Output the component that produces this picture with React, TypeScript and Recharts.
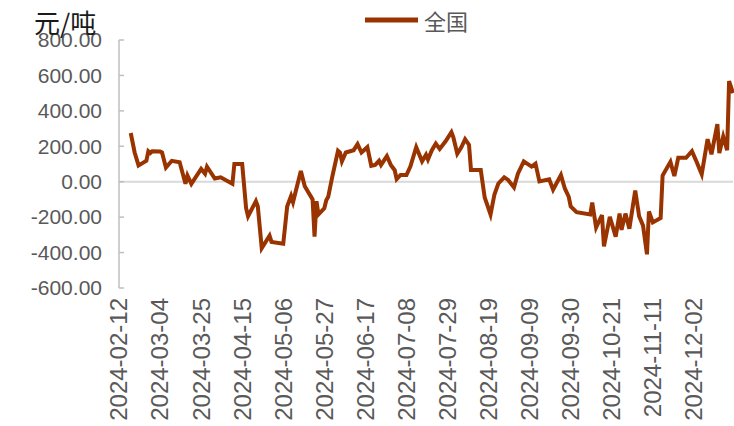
import React from "react";
import { LineChart, Line, XAxis, YAxis, ReferenceLine } from "recharts";

const dates = [
  "2024-02-18", "2024-02-20", "2024-02-22", "2024-02-24", "2024-02-26", "2024-02-27", "2024-02-28", "2024-02-29",
  "2024-03-04", "2024-03-05", "2024-03-07", "2024-03-10", "2024-03-14", "2024-03-17", "2024-03-18", "2024-03-20",
  "2024-03-25", "2024-03-27", "2024-03-28",
  "2024-04-01", "2024-04-04", "2024-04-10", "2024-04-11", "2024-04-15", "2024-04-17", "2024-04-18", "2024-04-22",
  "2024-04-23", "2024-04-25", "2024-04-29", "2024-04-30",
  "2024-05-06", "2024-05-08", "2024-05-10", "2024-05-11", "2024-05-15", "2024-05-17", "2024-05-21", "2024-05-22",
  "2024-05-23", "2024-05-24", "2024-05-27", "2024-05-28", "2024-05-29", "2024-05-31",
  "2024-06-03", "2024-06-04", "2024-06-05", "2024-06-07", "2024-06-11", "2024-06-13", "2024-06-15", "2024-06-18",
  "2024-06-20", "2024-06-22", "2024-06-24", "2024-06-25", "2024-06-28", "2024-06-30",
  "2024-07-02", "2024-07-03", "2024-07-05", "2024-07-08", "2024-07-10", "2024-07-13", "2024-07-16", "2024-07-18",
  "2024-07-19", "2024-07-21", "2024-07-23", "2024-07-25", "2024-07-28", "2024-07-31",
  "2024-08-01", "2024-08-03", "2024-08-05", "2024-08-07", "2024-08-09", "2024-08-10", "2024-08-15", "2024-08-17",
  "2024-08-20", "2024-08-22", "2024-08-24", "2024-08-27", "2024-08-29",
  "2024-09-01", "2024-09-03", "2024-09-06", "2024-09-10", "2024-09-12", "2024-09-14", "2024-09-19", "2024-09-21",
  "2024-09-25", "2024-09-27", "2024-09-29", "2024-09-30",
  "2024-10-03", "2024-10-10", "2024-10-11", "2024-10-13", "2024-10-16", "2024-10-17", "2024-10-20", "2024-10-23",
  "2024-10-25", "2024-10-26", "2024-10-28", "2024-10-30",
  "2024-11-02", "2024-11-04", "2024-11-06", "2024-11-08", "2024-11-09", "2024-11-11", "2024-11-15", "2024-11-16",
  "2024-11-20", "2024-11-22", "2024-11-24", "2024-11-28",
  "2024-12-01", "2024-12-03", "2024-12-06", "2024-12-09", "2024-12-11", "2024-12-14", "2024-12-15", "2024-12-17",
  "2024-12-19", "2024-12-20", "2024-12-22",
];

// 全国 (元/吨)
const nationalValues = [
  275, 165, 92, 105, 118, 172, 162, 172,
  170, 165, 80, 118, 110, -12, 35, -12,
  72, 45, 85,
  18, 25, -12, 100, 100, -150, -195, -110,
  -140, -375, -305, -340,
  -350, -140, -80, -115, 60, -25, -100, -310,
  -110, -185, -150, -105, -85, 25,
  175, 165, 115, 165, 178, 212, 165, 195,
  90, 95, 118, 95, 145, 95,
  65, 15, 38, 38, 85, 195, 115, 152,
  125, 178, 215, 185, 228, 280,
  250, 158, 193, 240, 208, 66, 66, -88,
  -185, -72, -10, 25, 10,
  -32, 45, 115, 85, 102, 2, 14, -45,
  38, -38, -85, -140,
  -172, -185, -118, -258, -188, -365, -198, -310,
  -180, -272, -180, -265,
  -50, -195, -248, -410, -168, -230, -205, 35,
  112, 32, 135, 135,
  172, 122, 42, 240, 155, 325, 162, 255,
  178, 568, 500,
];

const xTickLabels = [
  "2024-02-12", "2024-03-04", "2024-03-25", "2024-04-15", "2024-05-06", "2024-05-27", "2024-06-17", "2024-07-08",
  "2024-07-29", "2024-08-19", "2024-09-09", "2024-09-30", "2024-10-21", "2024-11-11", "2024-12-02",
];
const xDomainLabels = ["2024-02-12", "2024-12-22"];
const yTicks = [-600, -400, -200, 0, 200, 400, 600, 800];

const seriesName = "全国";
const unitLabel = "元/吨";

const data = dates.map((d, i) => ({ t: Date.parse(d), v: nationalValues[i] }));
const xTicks = xTickLabels.map((d) => Date.parse(d));
const xDomain = xDomainLabels.map((d) => Date.parse(d));

const LINE_COLOR = "#993300";
const AXIS_COLOR = "#bfbfbf";
const TEXT_COLOR = "#595959";
const FONT = "'Liberation Sans', Arial, sans-serif";
const CJK = "'Noto Sans CJK SC', sans-serif";

const fmtDate = (t: number) => new Date(t).toISOString().slice(0, 10);

function XTick(props: any) {
  const { x, y, payload } = props;
  return (
    <g transform={`translate(${x},${y})`}>
      <text
        transform="rotate(-90)"
        textAnchor="end"
        dy="0.35em"
        fill={TEXT_COLOR}
        fontSize={24}
        fontFamily={FONT}
      >
        {fmtDate(payload.value)}
      </text>
    </g>
  );
}

function YTick(props: any) {
  const { x, y, payload } = props;
  return (
    <g>
      <line x1={x} y1={y} x2={x + 5} y2={y} stroke={AXIS_COLOR} strokeWidth={1.5} />
      <text
        x={x - 17}
        y={y}
        dy="0.35em"
        textAnchor="end"
        fill={TEXT_COLOR}
        fontSize={21}
        fontFamily={FONT}
      >
        {payload.value.toFixed(2)}
      </text>
    </g>
  );
}

export default function App() {
  return (
    <div style={{ position: "absolute", left: 0, top: 0, width: 734, height: 426, background: "#fff" }}>
      <LineChart width={734} height={426} data={data} margin={{ top: 40, right: 1, left: 0, bottom: 0 }}>
        <XAxis
          dataKey="t"
          type="number"
          scale="time"
          domain={xDomain}
          ticks={xTicks}
          interval={0}
          axisLine={false}
          tickLine={false}
          tickSize={0}
          tickMargin={10}
          height={138}
          tick={<XTick />}
        />
        <YAxis
          type="number"
          domain={[-600, 800]}
          ticks={yTicks}
          interval={0}
          width={119}
          axisLine={{ stroke: AXIS_COLOR, strokeWidth: 1.5 }}
          tickLine={false}
          tickSize={0}
          tickMargin={0}
          tick={<YTick />}
        />
        <ReferenceLine y={0} stroke="#d9d9d9" strokeWidth={2} />
        <Line
          type="linear"
          dataKey="v"
          name={seriesName}
          stroke={LINE_COLOR}
          strokeWidth={4}
          dot={false}
          isAnimationActive={false}
        />
      </LineChart>
      <div style={{ position: "absolute", left: 364, top: 6, display: "flex", alignItems: "center" }}>
        <svg width={56} height={10}>
          <line x1={1} y1={5} x2={54} y2={5} stroke={LINE_COLOR} strokeWidth={5} />
        </svg>
        <span style={{ color: TEXT_COLOR, fontSize: 22, lineHeight: "28px", fontFamily: CJK, marginLeft: 4 }}>
          {seriesName}
        </span>
      </div>
      <div
        style={{
          position: "absolute",
          left: 34,
          top: 6,
          fontSize: 26,
          lineHeight: "32px",
          color: "#1a1a1a",
          fontFamily: CJK,
        }}
      >
        {unitLabel}
      </div>
    </div>
  );
}
